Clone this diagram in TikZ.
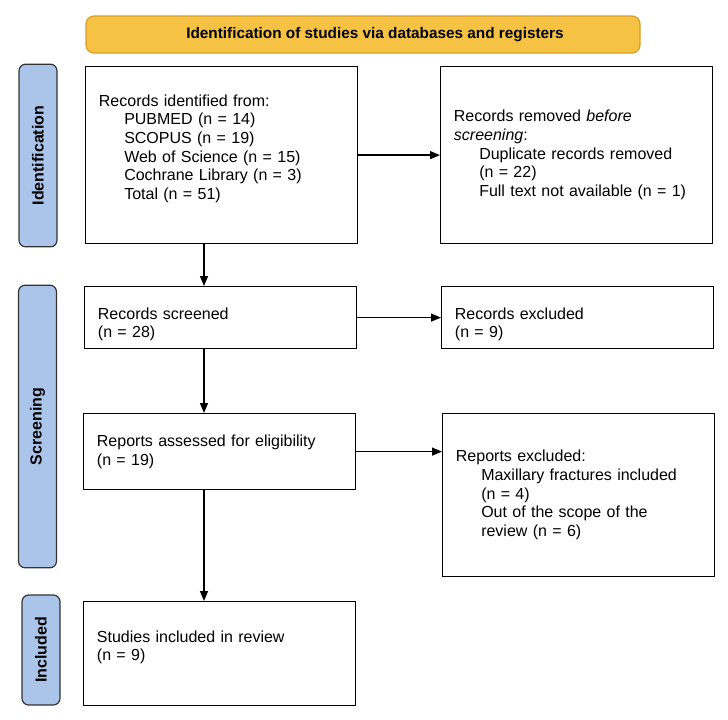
\documentclass[tikz,border=0pt]{standalone}
\usepackage{fontspec}
\setmainfont{Liberation Sans}
\usetikzlibrary{arrows.meta, positioning}
\definecolor{hd}{HTML}{F6C243}
\definecolor{hdline}{HTML}{D99E26}
\definecolor{ph}{HTML}{ABC5EA}
\newcommand{\ind}{\hspace*{19pt}}
\newcommand{\lowstrut}{\rule[-12pt]{0pt}{12pt}}
\newcommand{\highstrut}{\rule{0pt}{19pt}}

\begin{document}
\begin{tikzpicture}[x=0.75pt, y=-0.75pt, font=\fontsize{12}{14}\selectfont,
    box/.style={draw, line width=0.9pt, anchor=north west, minimum width=204pt, text width=184pt, inner xsep=10pt, align=left},
    phase/.style={draw=black!80, line width=0.9pt, fill=ph, rounded corners=5pt, rotate=90, minimum height=28.5pt, font=\fontsize{12}{14}\selectfont\bfseries},
    >={Triangle[length=7.5pt, width=6pt]}]
  \useasboundingbox (0,0) rectangle (728,719);

  % header
  \node[draw=hdline, fill=hd, line width=0.9pt, rounded corners=6pt, minimum width=415.5pt, minimum height=27.75pt, font=\fontsize{11.5}{14}\selectfont\bfseries] (head) at (363,34.5) {\hspace*{18pt}Identification of studies via databases and registers};

  % phases
  \node[phase, minimum width=137pt] (pid) at (38,155.5) {Identification};
  \node[phase, minimum width=212pt] (pscr) at (37.5,426.5) {Screening};
  \node[phase, minimum width=82.5pt] (pinc) at (41,650) {Included};

  % boxes
  \node[box, minimum height=132.75pt] (ident) at (85,66) {Records identified from:\\
    \ind PUBMED (n = 14)\\ \ind SCOPUS (n = 19)\\ \ind Web of Science (n = 15)\\
    \ind Cochrane Library (n = 3)\\ \ind Total (n = 51)\lowstrut};
  \node[box, minimum height=132.75pt] (removed) at (440,66) {Records removed \textit{before}\\ \textit{screening}:\\
    \ind Duplicate records removed\\ \ind (n = 22)\\ \ind Full text not available (n = 1)};
  \node[box, minimum height=46.5pt] (screened) at (84,286) {\highstrut Records screened\\(n = 28)};
  \node[box, minimum height=46.5pt] (excluded) at (441,286) {\highstrut Records excluded\\(n = 9)};
  \node[box, minimum height=57pt] (assessed) at (83,413) {Reports assessed for eligibility\\(n = 19)};
  \node[box, minimum height=122.25pt] (repexcl) at (442,413) {Reports excluded:\\
    \ind Maxillary fractures included\\ \ind (n = 4)\\ \ind Out of the scope of the\\ \ind review (n = 6)};
  \node[box, minimum height=78pt] (included) at (83,601) {Studies included in review\\(n = 9)\lowstrut};

  % arrows
  \coordinate (arrx) at (204,0);
  \draw[->, line width=1pt] (ident.east) -- (removed.west);
  \draw[->, line width=1pt] (screened.east) -- (screened.east -| excluded.west);
  \draw[->, line width=1pt] (assessed.east) -- (assessed.east -| repexcl.west);
  \draw[->, line width=1pt] (ident.south -| arrx) -- (screened.north -| arrx);
  \draw[->, line width=1pt] (screened.south -| arrx) -- (assessed.north -| arrx);
  \draw[->, line width=1pt] (assessed.south -| arrx) -- (included.north -| arrx);
\end{tikzpicture}
\end{document}
